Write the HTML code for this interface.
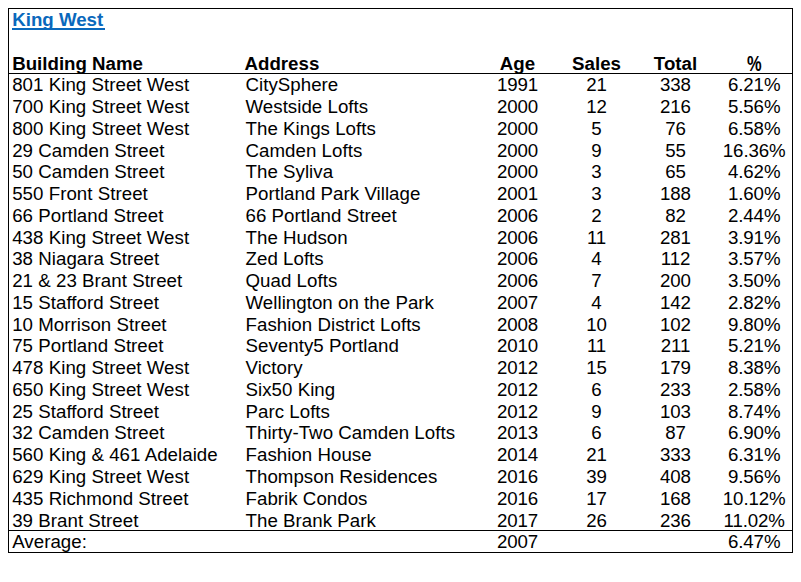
<!DOCTYPE html>
<html><head><meta charset="utf-8"><title>King West</title>
<style>
html,body{margin:0;padding:0;background:#fff;}
body{width:801px;height:582px;position:relative;overflow:hidden;font-family:"Liberation Sans",sans-serif;font-size:18.7px;color:#000;}
.box{position:absolute;left:8px;top:8px;width:785px;height:545px;border:1px solid #000;box-sizing:border-box;}
.hl{position:absolute;left:8px;width:785px;height:1px;background:#000;}
.r{position:absolute;left:0;width:801px;height:21.76px;line-height:21.76px;white-space:nowrap;}
.r span{position:absolute;top:0;}
.a{left:12.2px;letter-spacing:0.035px;}.b{left:245.5px;letter-spacing:0.035px;}
.h .a,.h .b,.t{letter-spacing:0;}
.h .b{left:244.5px;}
.age{left:517.5px;width:100px;margin-left:-50px;text-align:center;letter-spacing:-0.12px;}
.sales{left:596.5px;width:100px;margin-left:-50px;text-align:center;letter-spacing:-0.12px;}
.total{left:675.5px;width:100px;margin-left:-50px;text-align:center;letter-spacing:-0.12px;}
.pct{left:754.2px;width:100px;margin-left:-50px;text-align:center;letter-spacing:-0.12px;}
.h{font-weight:bold;}
.h span{letter-spacing:0;}
.h .pct{transform:translate(0.4px,0.5px) scale(0.88,1.15);transform-origin:50% 70%;}
.t{font-weight:bold;color:#0a68bc;}
.ul{position:absolute;left:12px;top:28px;width:93px;height:2px;background:#0a68bc;}
</style></head><body>
<div class="box"></div>
<div class="r" style="top:9.00px"><span class="a t">King West</span></div>
<div class="r h" style="top:53.00px"><span class="a">Building Name</span><span class="b">Address</span><span class="age">Age</span><span class="sales">Sales</span><span class="total">Total</span><span class="pct">%</span></div>
<div class="r " style="top:74.00px"><span class="a">801 King Street West</span><span class="b">CitySphere</span><span class="age">1991</span><span class="sales">21</span><span class="total">338</span><span class="pct">6.21%</span></div>
<div class="r " style="top:96.00px"><span class="a">700 King Street West</span><span class="b">Westside Lofts</span><span class="age">2000</span><span class="sales">12</span><span class="total">216</span><span class="pct">5.56%</span></div>
<div class="r " style="top:118.00px"><span class="a">800 King Street West</span><span class="b">The Kings Lofts</span><span class="age">2000</span><span class="sales">5</span><span class="total">76</span><span class="pct">6.58%</span></div>
<div class="r " style="top:140.00px"><span class="a">29 Camden Street</span><span class="b">Camden Lofts</span><span class="age">2000</span><span class="sales">9</span><span class="total">55</span><span class="pct">16.36%</span></div>
<div class="r " style="top:161.00px"><span class="a">50 Camden Street</span><span class="b">The Syliva</span><span class="age">2000</span><span class="sales">3</span><span class="total">65</span><span class="pct">4.62%</span></div>
<div class="r " style="top:183.00px"><span class="a">550 Front Street</span><span class="b">Portland Park Village</span><span class="age">2001</span><span class="sales">3</span><span class="total">188</span><span class="pct">1.60%</span></div>
<div class="r " style="top:205.00px"><span class="a">66 Portland Street</span><span class="b">66 Portland Street</span><span class="age">2006</span><span class="sales">2</span><span class="total">82</span><span class="pct">2.44%</span></div>
<div class="r " style="top:227.00px"><span class="a">438 King Street West</span><span class="b">The Hudson</span><span class="age">2006</span><span class="sales">11</span><span class="total">281</span><span class="pct">3.91%</span></div>
<div class="r " style="top:248.00px"><span class="a">38 Niagara Street</span><span class="b">Zed Lofts</span><span class="age">2006</span><span class="sales">4</span><span class="total">112</span><span class="pct">3.57%</span></div>
<div class="r " style="top:270.00px"><span class="a">21 &amp; 23 Brant Street</span><span class="b">Quad Lofts</span><span class="age">2006</span><span class="sales">7</span><span class="total">200</span><span class="pct">3.50%</span></div>
<div class="r " style="top:292.00px"><span class="a">15 Stafford Street</span><span class="b">Wellington on the Park</span><span class="age">2007</span><span class="sales">4</span><span class="total">142</span><span class="pct">2.82%</span></div>
<div class="r " style="top:314.00px"><span class="a">10 Morrison Street</span><span class="b">Fashion District Lofts</span><span class="age">2008</span><span class="sales">10</span><span class="total">102</span><span class="pct">9.80%</span></div>
<div class="r " style="top:335.00px"><span class="a">75 Portland Street</span><span class="b">Seventy5 Portland</span><span class="age">2010</span><span class="sales">11</span><span class="total">211</span><span class="pct">5.21%</span></div>
<div class="r " style="top:357.00px"><span class="a">478 King Street West</span><span class="b">Victory</span><span class="age">2012</span><span class="sales">15</span><span class="total">179</span><span class="pct">8.38%</span></div>
<div class="r " style="top:379.00px"><span class="a">650 King Street West</span><span class="b">Six50 King</span><span class="age">2012</span><span class="sales">6</span><span class="total">233</span><span class="pct">2.58%</span></div>
<div class="r " style="top:401.00px"><span class="a">25 Stafford Street</span><span class="b">Parc Lofts</span><span class="age">2012</span><span class="sales">9</span><span class="total">103</span><span class="pct">8.74%</span></div>
<div class="r " style="top:422.00px"><span class="a">32 Camden Street</span><span class="b">Thirty-Two Camden Lofts</span><span class="age">2013</span><span class="sales">6</span><span class="total">87</span><span class="pct">6.90%</span></div>
<div class="r " style="top:444.00px"><span class="a">560 King &amp; 461 Adelaide</span><span class="b">Fashion House</span><span class="age">2014</span><span class="sales">21</span><span class="total">333</span><span class="pct">6.31%</span></div>
<div class="r " style="top:466.00px"><span class="a">629 King Street West</span><span class="b">Thompson Residences</span><span class="age">2016</span><span class="sales">39</span><span class="total">408</span><span class="pct">9.56%</span></div>
<div class="r " style="top:488.00px"><span class="a">435 Richmond Street</span><span class="b">Fabrik Condos</span><span class="age">2016</span><span class="sales">17</span><span class="total">168</span><span class="pct">10.12%</span></div>
<div class="r " style="top:510.00px"><span class="a">39 Brant Street</span><span class="b">The Brank Park</span><span class="age">2017</span><span class="sales">26</span><span class="total">236</span><span class="pct">11.02%</span></div>
<div class="r " style="top:531.00px"><span class="a">Average:</span><span class="age">2007</span><span class="pct">6.47%</span></div>
<div class="ul"></div>
<div class="hl" style="top:73px"></div>
<div class="hl" style="top:530px"></div>
</body></html>
